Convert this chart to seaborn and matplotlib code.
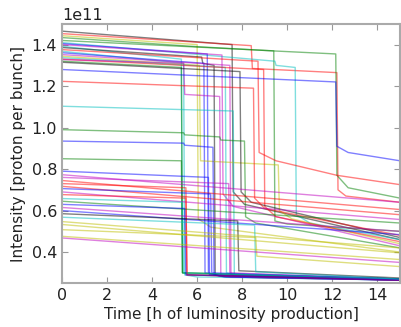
import matplotlib
matplotlib.use("Agg")
import matplotlib.pyplot as plt
import seaborn as sns
import pandas as pd

# ---- data (intensity in units of 1e11 protons per bunch) ----
line_colors = [
    "k", "r", "y", "g", "g", "c", "b", "m", "c", "k",
    "r", "c", "b", "m", "y", "c", "r", "m", "g", "k",
    "b", "r", "c", "g", "b", "g",
    "b", "m", "m", "r", "r", "r", "b", "m", "r", "c",
    "g", "b", "m", "b", "k", "c", "y", "y", "y", "y", "m",
]

line_times = [
    [0, 7.55, 7.6, 8.1, 15],
    [0, 8.4, 8.45, 12.2, 12.25, 12.6, 15],
    [0, 6.0, 6.05, 6.6, 15],
    [0, 6.0, 9.3, 12.15, 12.2, 12.7, 15],
    [0, 9.4, 9.45, 10.0, 15],
    [0, 9.45, 9.5, 10.35, 10.4, 11.0, 15],
    [0, 6.45, 6.5, 7.0, 15],
    [0, 7.1, 7.15, 7.6, 15],
    [0, 5.3, 5.35, 5.8, 15],
    [0, 6.2, 6.25, 6.75, 6.8, 7.3, 15],
    [0, 8.7, 8.75, 9.5, 12.2, 15],
    [0, 5.4, 5.45, 6.0, 15],
    [0, 6.3, 6.35, 6.9, 15],
    [0, 7.45, 7.5, 8.0, 15],
    [0, 6.1, 6.15, 9.6, 9.65, 10.2, 15],
    [0, 7.25, 7.3, 7.8, 15],
    [0, 8.95, 9.0, 9.5, 15],
    [0, 5.4, 5.45, 7.0, 7.05, 7.5, 15],
    [0, 5.3, 5.35, 15],
    [0, 7.9, 7.95, 8.4, 15],
    [0, 12.15, 12.2, 12.7, 15],
    [0, 8.5, 8.55, 9.0, 15],
    [0, 7.6, 7.65, 8.1, 15],
    [0, 5.4, 5.45, 7.0, 7.05, 8.1, 8.15, 8.6, 15],
    [0, 5.4, 5.45, 6.7, 6.75, 7.2, 15],
    [0, 5.3, 5.35, 15],
    [0, 6.5, 6.55, 15],
    [0, 15],
    [0, 7.4, 7.45, 15],
    [0, 15],
    [0, 5.5, 5.55, 15],
    [0, 15],
    [0, 6.6, 6.65, 15],
    [0, 15],
    [0, 5.5, 5.55, 15],
    [0, 5.35, 5.4, 15],
    [0, 15],
    [0, 5.45, 5.5, 15],
    [0, 15],
    [0, 15],
    [0, 7.8, 7.85, 15],
    [0, 8.55, 8.6, 15],
    [0, 15],
    [0, 15],
    [0, 8.6, 8.65, 15],
    [0, 15],
    [0, 15],
]

line_values = [
    [1.465, 1.40, 0.69, 0.63, 0.46],
    [1.453, 1.395, 1.285, 1.265, 0.70, 0.67, 0.64],
    [1.443, 1.40, 0.56, 0.52, 0.40],
    [1.434, 1.39, 1.37, 1.355, 0.77, 0.71, 0.66],
    [1.420, 1.37, 0.55, 0.535, 0.50],
    [1.410, 1.32, 1.30, 1.29, 0.58, 0.54, 0.46],
    [1.405, 1.355, 0.30, 0.285, 0.27],
    [1.400, 1.35, 0.68, 0.62, 0.43],
    [1.392, 1.33, 0.30, 0.29, 0.27],
    [1.386, 1.34, 1.31, 1.30, 0.29, 0.28, 0.265],
    [1.376, 1.32, 0.88, 0.84, 0.77, 0.725],
    [1.368, 1.31, 0.29, 0.28, 0.265],
    [1.361, 1.31, 0.30, 0.29, 0.27],
    [1.352, 1.30, 0.29, 0.28, 0.265],
    [1.344, 1.30, 0.84, 0.82, 0.60, 0.56, 0.44],
    [1.337, 1.29, 0.30, 0.29, 0.27],
    [1.330, 1.28, 0.62, 0.57, 0.45],
    [1.328, 1.31, 1.16, 1.15, 0.29, 0.28, 0.265],
    [1.320, 1.29, 0.30, 0.27],
    [1.315, 1.27, 0.69, 0.64, 0.47],
    [1.280, 1.22, 0.91, 0.88, 0.84],
    [1.223, 1.19, 0.66, 0.61, 0.48],
    [1.103, 1.08, 0.29, 0.28, 0.265],
    [0.990, 0.975, 0.965, 0.955, 0.94, 0.935, 0.57, 0.54, 0.42],
    [0.935, 0.925, 0.915, 0.905, 0.29, 0.28, 0.265],
    [0.850, 0.84, 0.30, 0.27],
    [0.790, 0.76, 0.29, 0.265],
    [0.773, 0.64],
    [0.760, 0.73, 0.30, 0.27],
    [0.745, 0.605],
    [0.730, 0.71, 0.29, 0.265],
    [0.717, 0.58],
    [0.706, 0.68, 0.30, 0.27],
    [0.690, 0.557],
    [0.677, 0.66, 0.29, 0.265],
    [0.658, 0.64, 0.30, 0.27],
    [0.645, 0.54],
    [0.630, 0.61, 0.29, 0.265],
    [0.615, 0.50],
    [0.600, 0.484],
    [0.585, 0.55, 0.31, 0.275],
    [0.568, 0.53, 0.305, 0.27],
    [0.547, 0.42],
    [0.533, 0.396],
    [0.508, 0.47, 0.38, 0.33],
    [0.476, 0.364],
    [0.468, 0.35],
]

x_ticks = [0, 2, 4, 6, 8, 10, 12, 14]
y_ticks = [0.4, 0.6, 0.8, 1.0, 1.2, 1.4]

classic = {"b": (0, 0, 1), "g": (0, 0.5, 0), "r": (1, 0, 0), "c": (0, 0.75, 0.75),
           "m": (0.75, 0, 0.75), "y": (0.75, 0.75, 0), "k": (0, 0, 0)}

rows = []
for i, (ts, vs) in enumerate(zip(line_times, line_values)):
    for t, v in zip(ts, vs):
        rows.append({"line": i, "t": t, "v": v * 1e11})
df = pd.DataFrame(rows)
palette = {i: classic[c] for i, c in enumerate(line_colors)}

sns.set_style("ticks")
plt.rcParams["font.family"] = ["DejaVu Sans"]
plt.rcParams["xtick.direction"] = "in"
plt.rcParams["ytick.direction"] = "in"

fig = plt.figure(figsize=(4.02, 3.27), dpi=100)
ax = fig.add_axes([0.154, 0.134, 0.841, 0.793])

sns.lineplot(data=df, x="t", y="v", hue="line", palette=palette, estimator=None,
             sort=False, legend=False, linewidth=1.0, alpha=0.5, ax=ax)

ax.set_xlim(0, 15)
ax.set_ylim(0.25e11, 1.5e11)
ax.set_xticks(x_ticks)
ax.set_yticks([v * 1e11 for v in y_ticks])
ax.set_xlabel("Time [h of luminosity production]", fontsize=11, color="#222222", labelpad=3)
ax.set_ylabel("Intensity [proton per bunch]", fontsize=11, color="#222222", labelpad=4)
ax.tick_params(axis="both", which="both", direction="in", top=True, right=True,
               length=4, width=0.8, color="#999999", labelsize=11.5, labelcolor="#222222")
ax.yaxis.get_offset_text().set_fontsize(11.5)
ax.yaxis.get_offset_text().set_color("#222222")
for s in ax.spines.values():
    s.set_color("#aaaaaa")
    s.set_linewidth(1.5)

fig.savefig("out.png", dpi=100)
